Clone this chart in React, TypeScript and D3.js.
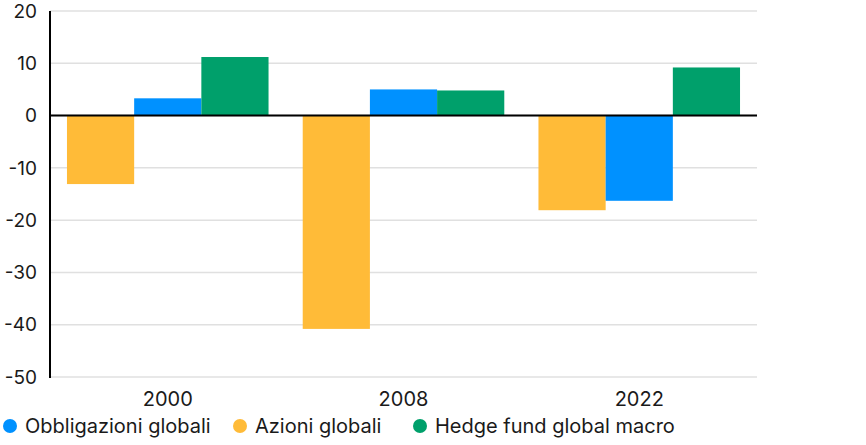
import { useEffect, useRef } from "react";
import * as d3 from "d3";

const years = ["2000", "2008", "2022"];
const seriesNames = ["Azioni globali", "Obbligazioni globali", "Hedge fund global macro"];
const azioni = [-13.1, -40.8, -18.1];
const obbligazioni = [3.3, 5.0, -16.3];
const hedge = [11.2, 4.8, 9.2];
const yTicks = [20, 10, 0, -10, -20, -30, -40, -50];
const legendNames = ["Obbligazioni globali", "Azioni globali", "Hedge fund global macro"];

const colors: Record<string, string> = {
    "Azioni globali": "#FFBB38",
    "Obbligazioni globali": "#0091FF",
    "Hedge fund global macro": "#00A06B",
};

const App = () => {
    const chartRef = useRef<SVGSVGElement | null>(null);

    useEffect(() => {
        if (!chartRef.current) return;
        d3.select(chartRef.current).selectAll("*").remove();

        const width = 866;
        const height = 445;
        const margin = { top: 11, right: 109, bottom: 68, left: 50 };
        const font = "Inter, 'Noto Sans', sans-serif";

        const svg = d3.select(chartRef.current)
            .attr("width", width)
            .attr("height", height)
            .style("font-family", font);

        const x = d3.scaleBand()
            .domain(years)
            .range([margin.left, width - margin.right])
            .paddingInner(0.145)
            .paddingOuter(0.072);

        const xInner = d3.scaleBand()
            .domain(seriesNames)
            .range([0, x.bandwidth()]);

        const y = d3.scaleLinear()
            .domain([-50, 20])
            .range([height - margin.bottom, margin.top]);

        // Gridlines
        svg.append("g")
            .selectAll("line")
            .data(yTicks)
            .enter()
            .append("line")
            .attr("x1", margin.left)
            .attr("x2", width - margin.right)
            .attr("y1", (d) => y(d))
            .attr("y2", (d) => y(d))
            .attr("stroke", "#e0e0e0")
            .attr("stroke-width", 1.5);

        const values: Record<string, number[]> = {
            "Azioni globali": azioni,
            "Obbligazioni globali": obbligazioni,
            "Hedge fund global macro": hedge,
        };

        // Bars
        const groups = svg.append("g")
            .selectAll("g")
            .data(years)
            .enter()
            .append("g")
            .attr("transform", (d) => `translate(${x(d)},0)`);

        groups.selectAll("rect")
            .data((_, i) => seriesNames.map((s) => ({ s, v: values[s][i] })))
            .enter()
            .append("rect")
            .attr("x", (d) => xInner(d.s)!)
            .attr("width", xInner.bandwidth())
            .attr("y", (d) => y(Math.max(0, d.v)))
            .attr("height", (d) => Math.abs(y(d.v) - y(0)))
            .attr("fill", (d) => colors[d.s]);

        // Zero line
        svg.append("line")
            .attr("x1", margin.left)
            .attr("x2", width - margin.right)
            .attr("y1", y(0))
            .attr("y2", y(0))
            .attr("stroke", "#000")
            .attr("stroke-width", 2);

        // Y axis line
        svg.append("line")
            .attr("x1", margin.left)
            .attr("x2", margin.left)
            .attr("y1", y(20))
            .attr("y2", y(-50) + 1)
            .attr("stroke", "#000")
            .attr("stroke-width", 2);

        // Y tick labels
        svg.append("g")
            .selectAll("text")
            .data(yTicks)
            .enter()
            .append("text")
            .attr("x", 37)
            .attr("y", (d) => y(d))
            .attr("dy", "0.35em")
            .attr("text-anchor", "end")
            .attr("font-size", 19)
            .attr("fill", "#1a1a1a")
            .text((d) => d);

        // X labels
        svg.append("g")
            .selectAll("text")
            .data(years)
            .enter()
            .append("text")
            .attr("x", (d) => x(d)! + x.bandwidth() / 2)
            .attr("y", 406)
            .attr("text-anchor", "middle")
            .attr("font-size", 20)
            .attr("fill", "#1a1a1a")
            .text((d) => d);

        // Legend
        const legendX = [10, 240, 420];
        const legend = svg.append("g")
            .selectAll("g")
            .data(legendNames)
            .enter()
            .append("g")
            .attr("transform", (_, i) => `translate(${legendX[i]},426)`);

        legend.append("circle")
            .attr("r", 7)
            .attr("fill", (d) => colors[d]);

        legend.append("text")
            .attr("x", 15)
            .attr("dy", "0.35em")
            .attr("font-size", 20)
            .attr("fill", "#1a1a1a")
            .text((d) => d);
    }, []);

    return <svg ref={chartRef} style={{ display: "block", position: "absolute", left: 0, top: 0 }}></svg>;
};

export default App;
